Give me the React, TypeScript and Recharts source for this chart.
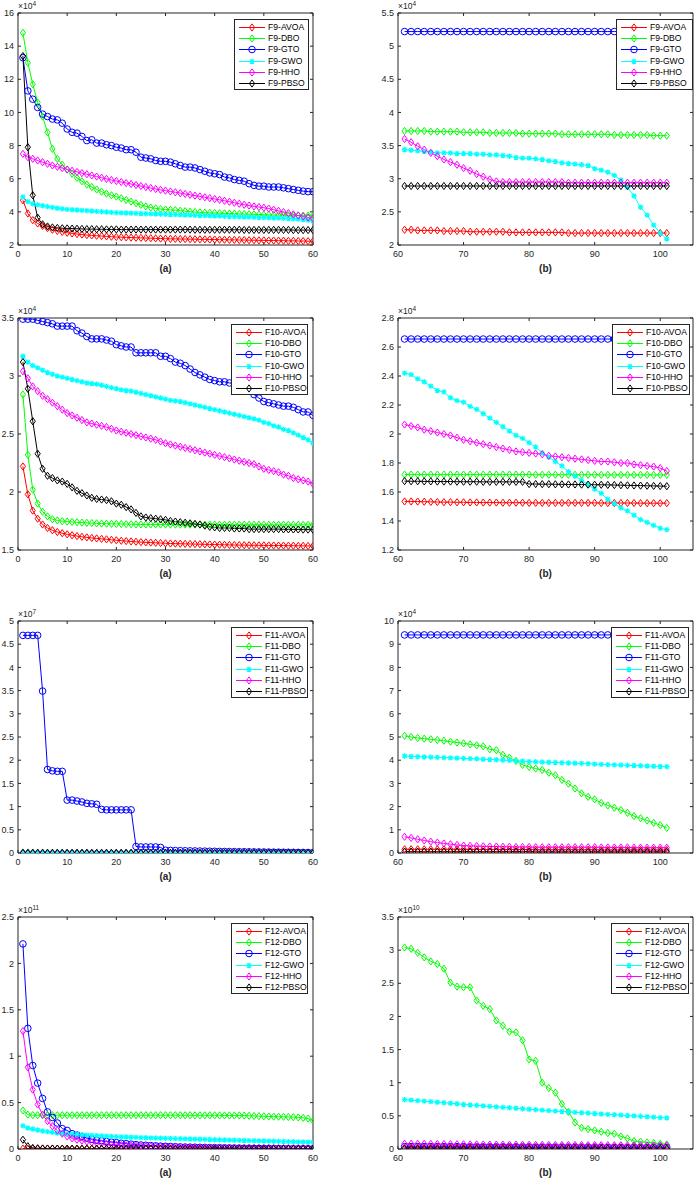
import React from 'react'
import { LineChart, Line, XAxis, YAxis, Legend } from 'recharts'

const FONT = '"Liberation Sans", Arial, Helvetica, sans-serif'
const AXIS = '#262626'

const ALGOS = ['AVOA', 'DBO', 'GTO', 'GWO', 'HHO', 'PBSO']
const COLORS = ['#ff0000', '#00ff00', '#0000ff', '#00ffff', '#ff00ff', '#000000']
const MARKERS = ['diamond', 'diamond', 'circle', 'star', 'diamond', 'diamond']

// iteration index (x categories)
const ITER_A = Array.from({ length: 60 }, (_, i) => i + 1)
const ITER_B = Array.from({ length: 41 }, (_, i) => i + 61)

const X_TICKS_A = [0, 10, 20, 30, 40, 50, 60]
const X_TICKS_B = [60, 70, 80, 90, 100]

// ---- F9 (x10^4) ----
const F9A_AVOA = [4.70,3.90,3.50,3.30,3.15,3.02,2.92,2.85,2.79,2.74,
  2.70,2.66,2.63,2.60,2.58,2.56,2.54,2.52,2.50,2.48,
  2.47,2.46,2.45,2.44,2.43,2.42,2.41,2.40,2.39,2.38,
  2.37,2.37,2.36,2.36,2.35,2.35,2.34,2.34,2.33,2.33,
  2.32,2.32,2.31,2.31,2.30,2.30,2.29,2.29,2.28,2.28,
  2.27,2.27,2.26,2.26,2.25,2.25,2.24,2.24,2.23,2.23]
const F9A_DBO = [14.8,13.0,11.7,10.6,9.75,8.80,7.80,7.20,6.85,6.55,
  6.30,6.05,5.85,5.65,5.50,5.35,5.22,5.10,5.00,4.92,
  4.82,4.72,4.62,4.52,4.42,4.33,4.26,4.21,4.17,4.14,
  4.12,4.10,4.07,4.04,4.01,3.99,3.97,3.95,3.94,3.93,
  3.92,3.91,3.90,3.89,3.88,3.87,3.86,3.85,3.84,3.83,
  3.82,3.81,3.80,3.80,3.79,3.78,3.78,3.77,3.77,3.78]
const F9A_GTO = [13.3,11.3,10.8,10.3,9.90,9.75,9.60,9.55,9.35,9.00,
  8.80,8.75,8.55,8.30,8.35,8.15,8.15,8.05,8.00,7.90,
  7.85,7.75,7.75,7.60,7.30,7.25,7.20,7.10,7.05,7.05,
  7.00,6.90,6.80,6.70,6.70,6.65,6.55,6.45,6.35,6.30,
  6.25,6.10,6.05,5.95,5.90,5.85,5.70,5.60,5.55,5.55,
  5.50,5.50,5.50,5.45,5.40,5.35,5.30,5.25,5.22,5.22]
const F9A_GWO = [4.90,4.62,4.48,4.42,4.37,4.32,4.27,4.22,4.18,4.15,
  4.13,4.11,4.09,4.07,4.05,4.03,4.01,3.99,3.97,3.95,
  3.94,3.93,3.92,3.91,3.90,3.89,3.88,3.87,3.86,3.85,
  3.84,3.83,3.82,3.81,3.80,3.79,3.78,3.77,3.76,3.75,
  3.74,3.73,3.72,3.71,3.70,3.69,3.68,3.67,3.66,3.65,
  3.64,3.63,3.62,3.61,3.60,3.58,3.56,3.54,3.50,3.45]
const F9A_HHO = [7.50,7.30,7.20,7.10,7.00,6.90,6.80,6.72,6.64,6.56,
  6.48,6.41,6.34,6.27,6.20,6.13,6.06,5.99,5.92,5.86,
  5.80,5.74,5.68,5.62,5.56,5.50,5.44,5.38,5.33,5.28,
  5.23,5.18,5.13,5.08,5.03,4.98,4.93,4.88,4.83,4.78,
  4.73,4.67,4.61,4.55,4.49,4.43,4.38,4.33,4.29,4.25,
  4.20,4.13,4.06,3.99,3.92,3.85,3.78,3.72,3.66,3.60]
const F9A_PBSO = [13.4,7.90,5.00,3.65,3.25,3.12,3.06,3.03,3.01,3.00,
  2.99,2.98,2.97,2.96,2.96,2.95,2.95,2.94,2.94,2.94,
  2.93,2.93,2.93,2.93,2.93,2.93,2.93,2.93,2.93,2.93,
  2.93,2.93,2.93,2.93,2.93,2.92,2.92,2.92,2.92,2.92,
  2.92,2.92,2.92,2.92,2.92,2.91,2.91,2.91,2.91,2.91,
  2.91,2.91,2.91,2.91,2.91,2.90,2.90,2.90,2.90,2.90]

const F9B_AVOA = [2.23,2.23,2.22,2.22,2.22,2.22,2.21,2.21,2.21,2.21,
  2.20,2.20,2.20,2.20,2.20,2.20,2.19,2.19,2.19,2.19,
  2.19,2.19,2.19,2.19,2.19,2.18,2.18,2.18,2.18,2.18,
  2.18,2.18,2.18,2.18,2.18,2.18,2.18,2.18,2.18,2.18,2.18]
const F9B_DBO = [3.72,3.72,3.72,3.72,3.71,3.71,3.71,3.71,3.71,3.70,
  3.70,3.70,3.70,3.69,3.69,3.69,3.69,3.69,3.68,3.68,
  3.68,3.68,3.68,3.68,3.67,3.67,3.67,3.67,3.67,3.67,
  3.67,3.67,3.66,3.66,3.66,3.66,3.66,3.66,3.65,3.65,3.65]
const F9B_GTO = [5.22,5.22,5.22,5.22,5.22,5.22,5.22,5.22,5.22,5.22,
  5.22,5.22,5.22,5.22,5.22,5.22,5.22,5.22,5.22,5.22,
  5.22,5.22,5.22,5.22,5.22,5.22,5.22,5.22,5.22,5.22,
  5.22,5.22,5.22,5.22,5.22,5.22,5.22,5.22,5.22,5.22,5.22]
const F9B_GWO = [3.44,3.43,3.42,3.41,3.40,3.39,3.39,3.39,3.38,3.38,
  3.38,3.37,3.37,3.36,3.36,3.35,3.34,3.32,3.31,3.31,
  3.30,3.29,3.27,3.26,3.24,3.23,3.22,3.21,3.20,3.15,
  3.13,3.10,3.05,2.98,2.87,2.74,2.57,2.45,2.30,2.18,2.09]
const F9B_HHO = [3.60,3.55,3.49,3.44,3.39,3.34,3.29,3.25,3.21,3.16,
  3.12,3.07,3.03,2.99,2.96,2.95,2.95,2.95,2.95,2.95,
  2.95,2.95,2.95,2.95,2.95,2.94,2.94,2.94,2.94,2.94,
  2.94,2.94,2.94,2.94,2.94,2.94,2.94,2.94,2.94,2.94,2.94]
const F9B_PBSO = [2.89,2.89,2.89,2.89,2.89,2.89,2.89,2.89,2.89,2.89,
  2.89,2.89,2.89,2.89,2.89,2.89,2.89,2.89,2.89,2.89,
  2.89,2.89,2.89,2.89,2.89,2.89,2.89,2.89,2.89,2.89,
  2.89,2.89,2.89,2.89,2.89,2.89,2.89,2.89,2.89,2.89,2.89]

// ---- F10 (x10^4) ----
const F10A_AVOA = [2.22,1.98,1.84,1.77,1.72,1.69,1.67,1.655,1.645,1.635,
  1.627,1.620,1.614,1.609,1.604,1.600,1.596,1.592,1.588,1.584,
  1.580,1.577,1.574,1.571,1.568,1.566,1.564,1.562,1.560,1.558,
  1.556,1.555,1.554,1.553,1.552,1.551,1.550,1.549,1.548,1.547,
  1.546,1.545,1.544,1.543,1.542,1.542,1.541,1.541,1.540,1.540,
  1.539,1.539,1.538,1.538,1.537,1.537,1.536,1.536,1.535,1.535]
const F10A_DBO = [2.84,2.32,2.02,1.90,1.83,1.79,1.765,1.755,1.748,1.745,
  1.742,1.739,1.736,1.734,1.732,1.730,1.728,1.727,1.726,1.725,
  1.724,1.723,1.722,1.721,1.720,1.720,1.720,1.720,1.720,1.720,
  1.719,1.719,1.719,1.719,1.719,1.719,1.719,1.719,1.719,1.719,
  1.718,1.718,1.718,1.718,1.718,1.718,1.718,1.718,1.718,1.718,
  1.717,1.717,1.717,1.717,1.717,1.717,1.717,1.717,1.717,1.717]
const F10A_GTO = [3.49,3.49,3.49,3.48,3.47,3.46,3.45,3.43,3.43,3.43,
  3.43,3.39,3.37,3.34,3.32,3.32,3.32,3.31,3.30,3.27,
  3.26,3.25,3.25,3.20,3.20,3.20,3.20,3.20,3.17,3.17,
  3.15,3.12,3.11,3.09,3.06,3.03,3.01,2.99,2.97,2.96,
  2.95,2.95,2.94,2.94,2.92,2.90,2.87,2.84,2.81,2.78,
  2.77,2.76,2.75,2.74,2.74,2.73,2.71,2.69,2.69,2.66]
const F10A_GWO = [3.17,3.12,3.09,3.07,3.05,3.03,3.015,3.00,2.99,2.98,
  2.97,2.96,2.95,2.94,2.935,2.93,2.92,2.91,2.90,2.89,
  2.88,2.875,2.87,2.86,2.85,2.84,2.83,2.82,2.81,2.80,
  2.79,2.785,2.78,2.77,2.76,2.75,2.74,2.73,2.72,2.71,
  2.70,2.69,2.68,2.67,2.66,2.65,2.64,2.63,2.62,2.60,
  2.59,2.57,2.56,2.54,2.53,2.51,2.49,2.47,2.45,2.42]
const F10A_HHO = [3.04,2.98,2.91,2.87,2.83,2.80,2.77,2.74,2.71,2.68,
  2.66,2.64,2.62,2.60,2.59,2.58,2.57,2.56,2.545,2.53,
  2.52,2.51,2.50,2.49,2.48,2.47,2.46,2.45,2.435,2.42,
  2.41,2.40,2.39,2.38,2.37,2.36,2.35,2.34,2.33,2.32,
  2.31,2.30,2.29,2.28,2.27,2.26,2.25,2.24,2.22,2.20,
  2.19,2.18,2.17,2.15,2.14,2.12,2.11,2.10,2.09,2.07]
const F10A_PBSO = [3.12,2.89,2.61,2.33,2.20,2.14,2.12,2.10,2.09,2.07,
  2.04,2.01,1.99,1.97,1.95,1.94,1.935,1.93,1.92,1.90,
  1.89,1.87,1.85,1.82,1.79,1.78,1.775,1.77,1.765,1.76,
  1.75,1.745,1.74,1.735,1.73,1.725,1.72,1.71,1.70,1.695,
  1.69,1.69,1.69,1.685,1.685,1.685,1.68,1.68,1.68,1.68,
  1.68,1.68,1.68,1.678,1.678,1.677,1.677,1.676,1.676,1.675]

const F10B_AVOA = [1.535,1.535,1.534,1.533,1.532,1.531,1.530,1.530,1.529,1.529,
  1.528,1.528,1.527,1.527,1.527,1.526,1.526,1.526,1.526,1.525,
  1.525,1.525,1.525,1.525,1.525,1.525,1.525,1.525,1.525,1.525,
  1.524,1.524,1.524,1.524,1.524,1.524,1.523,1.523,1.523,1.523,1.523]
const F10B_DBO = [1.720,1.720,1.720,1.720,1.720,1.720,1.720,1.720,1.720,1.720,
  1.720,1.720,1.720,1.720,1.720,1.720,1.720,1.720,1.720,1.720,
  1.719,1.719,1.719,1.719,1.719,1.719,1.719,1.719,1.719,1.719,
  1.718,1.718,1.718,1.718,1.718,1.718,1.718,1.718,1.718,1.718,1.718]
const F10B_GTO = [2.655,2.655,2.655,2.655,2.655,2.655,2.655,2.655,2.655,2.655,
  2.655,2.655,2.655,2.655,2.655,2.655,2.655,2.655,2.655,2.655,
  2.655,2.655,2.655,2.655,2.655,2.655,2.655,2.655,2.655,2.655,
  2.655,2.655,2.655,2.655,2.655,2.655,2.655,2.655,2.655,2.655,2.655]
const F10B_GWO = [2.42,2.41,2.38,2.36,2.33,2.30,2.29,2.25,2.23,2.22,
  2.19,2.17,2.14,2.11,2.08,2.05,2.02,1.99,1.97,1.94,
  1.91,1.87,1.84,1.81,1.78,1.74,1.71,1.68,1.65,1.62,
  1.59,1.55,1.52,1.49,1.47,1.44,1.41,1.39,1.37,1.35,1.34]
const F10B_HHO = [2.065,2.055,2.045,2.030,2.020,2.010,2.000,1.990,1.975,1.960,
  1.950,1.940,1.930,1.920,1.910,1.900,1.890,1.880,1.875,1.870,
  1.865,1.860,1.850,1.845,1.840,1.835,1.830,1.825,1.820,1.815,
  1.810,1.810,1.805,1.800,1.800,1.790,1.785,1.780,1.775,1.765,1.745]
const F10B_PBSO = [1.675,1.674,1.674,1.673,1.673,1.672,1.672,1.672,1.671,1.671,
  1.671,1.671,1.670,1.670,1.670,1.670,1.670,1.670,1.670,1.655,
  1.655,1.654,1.654,1.653,1.653,1.652,1.652,1.651,1.651,1.650,
  1.650,1.649,1.648,1.647,1.646,1.645,1.644,1.643,1.642,1.641,1.640]

// ---- F11 (left x10^7, right x10^4) ----
const F11A_AVOA = [0.0020,0.0016,0.0013,0.0011,0.0010,0.0009,0.0008,0.0007,0.0007,0.0006,
  0.0006,0.0006,0.0005,0.0005,0.0005,0.0005,0.0004,0.0004,0.0004,0.0004,
  0.0004,0.0004,0.0003,0.0003,0.0003,0.0003,0.0003,0.0003,0.0003,0.0003,
  0.0003,0.0003,0.0003,0.0002,0.0002,0.0002,0.0002,0.0002,0.0002,0.0002,
  0.0002,0.0002,0.0002,0.0002,0.0002,0.0002,0.0002,0.0002,0.0002,0.0002,
  0.0002,0.0002,0.0002,0.0002,0.0002,0.0002,0.0002,0.0002,0.0002,0.0002]
const F11A_DBO = [0.0120,0.0110,0.0100,0.0095,0.0090,0.0086,0.0083,0.0080,0.0078,0.0076,
  0.0074,0.0072,0.0070,0.0068,0.0067,0.0066,0.0065,0.0064,0.0063,0.0062,
  0.0061,0.0060,0.0059,0.0058,0.0058,0.0057,0.0057,0.0056,0.0056,0.0055,
  0.0055,0.0055,0.0054,0.0054,0.0054,0.0054,0.0053,0.0053,0.0053,0.0053,
  0.0053,0.0052,0.0052,0.0052,0.0052,0.0052,0.0052,0.0052,0.0051,0.0051,
  0.0051,0.0051,0.0051,0.0051,0.0051,0.0051,0.0051,0.0051,0.0051,0.0051]
const F11A_GTO = [4.69,4.69,4.69,4.69,3.49,1.80,1.77,1.76,1.76,1.14,
  1.14,1.12,1.10,1.07,1.06,1.05,0.94,0.93,0.93,0.93,
  0.93,0.93,0.93,0.14,0.13,0.13,0.13,0.13,0.12,0.06,
  0.055,0.052,0.050,0.048,0.046,0.044,0.042,0.040,0.038,0.036,
  0.034,0.032,0.031,0.030,0.028,0.027,0.026,0.024,0.023,0.022,
  0.020,0.019,0.018,0.016,0.015,0.014,0.013,0.012,0.011,0.010]
const F11A_GWO = [0.0080,0.0072,0.0066,0.0062,0.0059,0.0057,0.0055,0.0053,0.0052,0.0051,
  0.0050,0.0049,0.0048,0.0048,0.0047,0.0047,0.0046,0.0046,0.0046,0.0045,
  0.0045,0.0045,0.0045,0.0044,0.0044,0.0044,0.0044,0.0044,0.0044,0.0043,
  0.0043,0.0043,0.0043,0.0043,0.0043,0.0043,0.0043,0.0043,0.0043,0.0043,
  0.0043,0.0043,0.0043,0.0043,0.0043,0.0043,0.0043,0.0043,0.0043,0.0042,
  0.0042,0.0042,0.0042,0.0042,0.0042,0.0042,0.0042,0.0042,0.0042,0.0042]
const F11A_HHO = [0.0040,0.0035,0.0031,0.0028,0.0025,0.0023,0.0021,0.0019,0.0018,0.0017,
  0.0016,0.0015,0.0014,0.0013,0.0013,0.0012,0.0012,0.0011,0.0011,0.0011,
  0.0010,0.0010,0.0010,0.0010,0.0010,0.0010,0.0010,0.0010,0.0010,0.0010,
  0.0009,0.0009,0.0009,0.0009,0.0009,0.0009,0.0009,0.0009,0.0009,0.0009,
  0.0008,0.0008,0.0008,0.0008,0.0008,0.0008,0.0008,0.0008,0.0008,0.0008,
  0.0007,0.0007,0.0007,0.0007,0.0007,0.0007,0.0007,0.0007,0.0007,0.0007]
const F11A_PBSO = [0.0010,0.0006,0.0004,0.0003,0.0002,0.0002,0.0001,0.0001,0.0001,0.0001,
  0.0001,0.0001,0.0001,0.0001,0.0001,0.0001,0.0001,0.0001,0.0001,0.0001,
  0.0001,0.0001,0.0001,0.0001,0.0001,0.0001,0.0001,0.0001,0.0001,0.0001,
  0.0001,0.0001,0.0001,0.0001,0.0001,0.0001,0.0001,0.0001,0.0001,0.0001,
  0.0001,0.0001,0.0001,0.0001,0.0001,0.0001,0.0001,0.0001,0.0001,0.0001,
  0.0001,0.0001,0.0001,0.0001,0.0001,0.0001,0.0001,0.0001,0.0001,0.0001]

const F11B_AVOA = [0.16,0.16,0.16,0.16,0.16,0.16,0.16,0.16,0.16,0.16,
  0.15,0.15,0.15,0.15,0.15,0.15,0.15,0.15,0.15,0.15,
  0.14,0.14,0.14,0.14,0.14,0.14,0.14,0.14,0.14,0.14,
  0.13,0.13,0.13,0.13,0.13,0.13,0.13,0.13,0.13,0.13,0.13]
const F11B_DBO = [5.05,5.00,4.96,4.93,4.90,4.87,4.84,4.80,4.76,4.73,
  4.68,4.64,4.60,4.47,4.43,4.23,4.11,3.97,3.80,3.71,
  3.64,3.58,3.46,3.35,3.15,2.99,2.78,2.57,2.42,2.31,
  2.16,2.05,1.95,1.85,1.73,1.59,1.50,1.40,1.30,1.20,1.08]
const F11B_GTO = [9.40,9.40,9.40,9.40,9.40,9.40,9.40,9.40,9.40,9.40,
  9.40,9.40,9.40,9.40,9.40,9.40,9.40,9.40,9.40,9.40,
  9.40,9.40,9.40,9.40,9.40,9.40,9.40,9.40,9.40,9.40,
  9.40,9.40,9.40,9.40,9.40,9.40,9.40,9.40,9.40,9.40,9.40]
const F11B_GWO = [4.18,4.16,4.15,4.14,4.13,4.12,4.11,4.10,4.09,4.08,
  4.07,4.06,4.04,4.03,4.02,4.00,3.99,3.97,3.96,3.94,
  3.93,3.92,3.91,3.90,3.89,3.88,3.87,3.86,3.85,3.83,
  3.82,3.81,3.80,3.79,3.78,3.77,3.76,3.75,3.74,3.73,3.72]
const F11B_HHO = [0.70,0.65,0.59,0.54,0.49,0.45,0.41,0.38,0.35,0.32,
  0.31,0.30,0.29,0.28,0.28,0.27,0.27,0.26,0.26,0.26,
  0.25,0.25,0.25,0.25,0.25,0.25,0.25,0.25,0.25,0.25,
  0.24,0.24,0.24,0.24,0.24,0.23,0.23,0.23,0.23,0.23,0.23]
const F11B_PBSO = [0.06,0.06,0.06,0.06,0.06,0.06,0.06,0.06,0.06,0.06,
  0.06,0.06,0.06,0.06,0.06,0.06,0.06,0.06,0.06,0.06,
  0.05,0.05,0.05,0.05,0.05,0.05,0.05,0.05,0.05,0.05,
  0.05,0.05,0.05,0.05,0.05,0.05,0.05,0.05,0.05,0.05,0.05]

// ---- F12 (left x10^11, right x10^10) ----
const F12A_AVOA = [0.004,0.004,0.004,0.004,0.004,0.004,0.004,0.004,0.004,0.004,
  0.003,0.003,0.003,0.003,0.003,0.003,0.003,0.003,0.003,0.003,
  0.003,0.003,0.003,0.003,0.003,0.003,0.003,0.003,0.003,0.003,
  0.002,0.002,0.002,0.002,0.002,0.002,0.002,0.002,0.002,0.002,
  0.002,0.002,0.002,0.002,0.002,0.002,0.002,0.002,0.002,0.002,
  0.002,0.002,0.002,0.002,0.002,0.002,0.002,0.002,0.002,0.002]
const F12A_DBO = [0.415,0.370,0.365,0.364,0.364,0.364,0.364,0.364,0.364,0.364,
  0.364,0.364,0.364,0.364,0.364,0.364,0.364,0.364,0.364,0.364,
  0.364,0.364,0.364,0.364,0.364,0.364,0.364,0.364,0.364,0.364,
  0.364,0.364,0.364,0.364,0.364,0.363,0.363,0.363,0.363,0.363,
  0.362,0.362,0.362,0.362,0.362,0.360,0.358,0.356,0.354,0.352,
  0.350,0.349,0.348,0.347,0.345,0.343,0.340,0.336,0.328,0.305]
const F12A_GTO = [2.21,1.30,0.90,0.71,0.545,0.40,0.34,0.28,0.22,0.20,
  0.165,0.150,0.135,0.120,0.105,0.095,0.088,0.080,0.074,0.068,
  0.062,0.057,0.052,0.047,0.043,0.040,0.037,0.034,0.031,0.029,
  0.027,0.025,0.023,0.021,0.020,0.019,0.018,0.017,0.016,0.015,
  0.014,0.013,0.012,0.011,0.010,0.009,0.009,0.008,0.008,0.007,
  0.007,0.006,0.006,0.005,0.005,0.004,0.004,0.004,0.003,0.003]
const F12A_GWO = [0.250,0.226,0.215,0.205,0.194,0.187,0.180,0.172,0.167,0.162,
  0.159,0.156,0.153,0.150,0.147,0.144,0.141,0.138,0.136,0.133,
  0.131,0.129,0.127,0.125,0.123,0.121,0.120,0.118,0.117,0.115,
  0.114,0.112,0.111,0.109,0.108,0.106,0.105,0.103,0.102,0.100,
  0.099,0.097,0.096,0.094,0.093,0.092,0.090,0.089,0.088,0.086,
  0.085,0.084,0.082,0.081,0.080,0.078,0.077,0.076,0.074,0.072]
const F12A_HHO = [1.27,0.88,0.64,0.48,0.37,0.30,0.245,0.20,0.165,0.135,
  0.115,0.100,0.090,0.080,0.072,0.065,0.060,0.055,0.050,0.046,
  0.042,0.039,0.036,0.033,0.031,0.029,0.027,0.025,0.023,0.022,
  0.021,0.020,0.019,0.018,0.017,0.016,0.015,0.015,0.014,0.013,
  0.013,0.012,0.012,0.011,0.011,0.010,0.010,0.010,0.009,0.009,
  0.009,0.009,0.008,0.008,0.008,0.008,0.008,0.007,0.007,0.007]
const F12A_PBSO = [0.100,0.030,0.012,0.008,0.006,0.005,0.005,0.004,0.004,0.004,
  0.003,0.003,0.003,0.003,0.003,0.003,0.003,0.003,0.003,0.003,
  0.003,0.003,0.003,0.003,0.003,0.003,0.003,0.003,0.003,0.003,
  0.002,0.002,0.002,0.002,0.002,0.002,0.002,0.002,0.002,0.002,
  0.002,0.002,0.002,0.002,0.002,0.001,0.001,0.001,0.001,0.001,
  0.001,0.001,0.001,0.001,0.001,0.001,0.001,0.001,0.001,0.001]

const F12B_AVOA = [0.022,0.022,0.022,0.022,0.022,0.022,0.022,0.022,0.022,0.022,
  0.021,0.021,0.021,0.021,0.021,0.021,0.021,0.021,0.021,0.021,
  0.020,0.020,0.020,0.020,0.020,0.020,0.020,0.020,0.020,0.020,
  0.019,0.019,0.019,0.019,0.019,0.019,0.019,0.019,0.019,0.019,0.019]
const F12B_DBO = [3.04,3.02,2.96,2.89,2.83,2.79,2.72,2.51,2.45,2.44,
  2.44,2.24,2.16,2.11,1.94,1.86,1.77,1.76,1.64,1.35,
  1.33,1.00,0.92,0.85,0.68,0.56,0.40,0.32,0.30,0.28,
  0.26,0.24,0.23,0.19,0.16,0.12,0.11,0.10,0.09,0.08,0.07]
const F12B_GTO = [0.035,0.035,0.035,0.035,0.035,0.035,0.035,0.035,0.035,0.035,
  0.032,0.032,0.032,0.032,0.032,0.032,0.032,0.032,0.032,0.032,
  0.029,0.029,0.029,0.029,0.029,0.029,0.029,0.029,0.029,0.029,
  0.026,0.026,0.026,0.026,0.026,0.026,0.026,0.026,0.026,0.026,0.026]
const F12B_GWO = [0.744,0.737,0.730,0.722,0.714,0.706,0.698,0.690,0.682,0.672,
  0.664,0.657,0.650,0.643,0.636,0.629,0.622,0.615,0.607,0.600,
  0.593,0.586,0.579,0.572,0.566,0.560,0.553,0.547,0.541,0.535,
  0.528,0.523,0.517,0.511,0.505,0.499,0.493,0.487,0.481,0.474,0.468]
const F12B_HHO = [0.080,0.079,0.078,0.077,0.076,0.075,0.074,0.073,0.072,0.071,
  0.070,0.069,0.068,0.067,0.066,0.066,0.065,0.065,0.064,0.064,
  0.063,0.063,0.062,0.062,0.061,0.061,0.060,0.060,0.059,0.059,
  0.058,0.058,0.057,0.057,0.056,0.056,0.056,0.055,0.055,0.055,0.055]
const F12B_PBSO = [0.003,0.003,0.003,0.003,0.003,0.003,0.003,0.003,0.003,0.003,
  0.003,0.003,0.003,0.003,0.003,0.003,0.003,0.003,0.003,0.003,
  0.003,0.003,0.003,0.003,0.003,0.003,0.003,0.003,0.003,0.003,
  0.003,0.003,0.003,0.003,0.003,0.003,0.003,0.003,0.003,0.003,0.003]

// y ticks per panel
const Y_F9A = [2, 4, 6, 8, 10, 12, 14, 16]
const Y_F9B = [2, 2.5, 3, 3.5, 4, 4.5, 5, 5.5]
const Y_F10A = [1.5, 2, 2.5, 3, 3.5]
const Y_F10B = [1.2, 1.4, 1.6, 1.8, 2, 2.2, 2.4, 2.6, 2.8]
const Y_F11A = [0, 0.5, 1, 1.5, 2, 2.5, 3, 3.5, 4, 4.5, 5]
const Y_F11B = [0, 1, 2, 3, 4, 5, 6, 7, 8, 9, 10]
const Y_F12A = [0, 0.5, 1, 1.5, 2, 2.5]
const Y_F12B = [0, 0.5, 1, 1.5, 2, 2.5, 3, 3.5]

function Marker({ cx, cy, color, kind }: any) {
  if (cx == null || cy == null) return null
  if (kind === 'circle') {
    return <circle cx={cx} cy={cy} r={3.3} fill="none" stroke={color} strokeWidth={1} />
  }
  if (kind === 'star') {
    const d = `M${cx - 2.7},${cy}h5.4M${cx},${cy - 2.7}v5.4M${cx - 2},${cy - 2}l4,4M${cx - 2},${cy + 2}l4,-4`
    return <path d={d} fill="none" stroke={color} strokeWidth={1.2} />
  }
  const d = `M${cx},${cy - 3.6}L${cx + 2.6},${cy}L${cx},${cy + 3.6}L${cx - 2.6},${cy}Z`
  return <path d={d} fill="none" stroke={color} strokeWidth={1} />
}

function LegendBox({ fn }: { fn: string }) {
  return (
    <div style={{ width: '100%', height: '100%', boxSizing: 'border-box', border: '1px solid #262626', background: '#fff', paddingTop: 2 }}>
      {ALGOS.map((a, k) => (
        <div key={a} style={{ display: 'flex', alignItems: 'center', height: 11.2 }}>
          <svg width={32} height={11} style={{ flex: 'none' }}>
            <line x1={4} x2={30} y1={5.5} y2={5.5} stroke={COLORS[k]} strokeWidth={1} />
            <Marker cx={17} cy={5.5} color={COLORS[k]} kind={MARKERS[k]} />
          </svg>
          <span style={{ fontSize: 8.6, color: '#000', marginLeft: 1, whiteSpace: 'nowrap', lineHeight: '11px' }}>{fn}-{a}</span>
        </div>
      ))}
    </div>
  )
}

function Panel(p: any) {
  const rows = p.iters.map((it: number, i: number) => {
    const row: any = { it }
    p.series.forEach((s: number[], k: number) => { row['s' + k] = s[i] })
    return row
  })
  const tickStyle = { fontSize: 9, fill: AXIS }
  return (
    <div style={{ position: 'absolute', left: p.left, top: p.top }}>
      <LineChart width={p.width} height={270} data={rows} margin={{ top: 7, right: p.marginRight, bottom: 2, left: 0 }}>
        <XAxis xAxisId="bottom" dataKey="it" type="number" domain={p.xDomain} ticks={p.xTicks} allowDataOverflow
          interval={0} stroke={AXIS} tickSize={-3} tickMargin={9} height={28} tick={tickStyle}
          label={{ value: p.caption, position: 'insideBottom', offset: 1, fill: AXIS, fontSize: 10, fontWeight: 'bold' }} />
        <XAxis xAxisId="top" orientation="top" dataKey="it" type="number" domain={p.xDomain} ticks={p.xTicks} allowDataOverflow
          interval={0} stroke={AXIS} tickSize={-3} height={1} tickFormatter={() => ''} />
        <YAxis yAxisId="left" type="number" domain={p.yDomain} ticks={p.yTicks} allowDataOverflow interval={0}
          width={p.yAxisW} stroke={AXIS} tickSize={-3} tickMargin={7} tick={tickStyle} />
        <YAxis yAxisId="right" orientation="right" type="number" domain={p.yDomain} ticks={p.yTicks} allowDataOverflow
          interval={0} width={1} stroke={AXIS} tickSize={-3} tickFormatter={() => ''} />
        {/* invisible carrier so the box axes (top/right) get a scale */}
        <Line xAxisId="top" yAxisId="right" dataKey="s0" stroke="none" dot={false} activeDot={false}
          isAnimationActive={false} legendType="none" />
        {p.series.map((_: number[], k: number) => (
          <Line key={ALGOS[k]} xAxisId="bottom" yAxisId="left" type="linear" dataKey={'s' + k}
            stroke={COLORS[k]} strokeWidth={1} isAnimationActive={false} activeDot={false}
            dot={(d: any) => <Marker key={`m${k}-${d.index}`} cx={d.cx} cy={d.cy} color={COLORS[k]} kind={MARKERS[k]} />} />
        ))}
        <Legend layout="vertical" align="center" verticalAlign="middle"
          wrapperStyle={{ left: p.legendLeft, top: 14, width: p.legendWidth, height: 71 }}
          content={() => <LegendBox fn={p.fn} />} />
      </LineChart>
      <div style={{ position: 'absolute', left: p.yAxisW, top: -4, fontSize: 8.5, color: AXIS, lineHeight: '10px', whiteSpace: 'nowrap' }}>
        ×10<span style={{ fontSize: 6.5, position: 'relative', top: -3.5 }}>{p.exp}</span>
      </div>
    </div>
  )
}

const LEFT = { left: 0, width: 320, yAxisW: 18, marginRight: 6, iters: ITER_A, xDomain: [0, 60], xTicks: X_TICKS_A, caption: '(a)' }
const RIGHT = { left: 370, width: 326, yAxisW: 28, marginRight: 2, iters: ITER_B, xDomain: [60, 105], xTicks: X_TICKS_B, caption: '(b)' }

export default function App() {
  return (
    <div style={{ position: 'absolute', left: 0, top: 0, width: 696, height: 1181, background: '#fff', fontFamily: FONT, overflow: 'hidden' }}>
      <Panel {...LEFT} top={5} fn="F9" exp="4" yDomain={[2, 16]} yTicks={Y_F9A} legendLeft={234} legendWidth={75}
        series={[F9A_AVOA, F9A_DBO, F9A_GTO, F9A_GWO, F9A_HHO, F9A_PBSO]} />
      <Panel {...RIGHT} top={5} fn="F9" exp="4" yDomain={[2, 5.5]} yTicks={Y_F9B} legendLeft={246} legendWidth={77}
        series={[F9B_AVOA, F9B_DBO, F9B_GTO, F9B_GWO, F9B_HHO, F9B_PBSO]} />
      <Panel {...LEFT} top={310} fn="F10" exp="4" yDomain={[1.5, 3.5]} yTicks={Y_F10A} legendLeft={231} legendWidth={77}
        series={[F10A_AVOA, F10A_DBO, F10A_GTO, F10A_GWO, F10A_HHO, F10A_PBSO]} />
      <Panel {...RIGHT} top={310} fn="F10" exp="4" yDomain={[1.2, 2.8]} yTicks={Y_F10B} legendLeft={242} legendWidth={78}
        series={[F10B_AVOA, F10B_DBO, F10B_GTO, F10B_GWO, F10B_HHO, F10B_PBSO]} />
      <Panel {...LEFT} top={613} fn="F11" exp="7" yDomain={[0, 5]} yTicks={Y_F11A} legendLeft={231} legendWidth={77}
        series={[F11A_AVOA, F11A_DBO, F11A_GTO, F11A_GWO, F11A_HHO, F11A_PBSO]} />
      <Panel {...RIGHT} top={613} fn="F11" exp="4" yDomain={[0, 10]} yTicks={Y_F11B} legendLeft={241} legendWidth={78}
        series={[F11B_AVOA, F11B_DBO, F11B_GTO, F11B_GWO, F11B_HHO, F11B_PBSO]} />
      <Panel {...LEFT} top={909} fn="F12" exp="11" yDomain={[0, 2.5]} yTicks={Y_F12A} legendLeft={231} legendWidth={77}
        series={[F12A_AVOA, F12A_DBO, F12A_GTO, F12A_GWO, F12A_HHO, F12A_PBSO]} />
      <Panel {...RIGHT} top={909} fn="F12" exp="10" yDomain={[0, 3.5]} yTicks={Y_F12B} legendLeft={241} legendWidth={78}
        series={[F12B_AVOA, F12B_DBO, F12B_GTO, F12B_GWO, F12B_HHO, F12B_PBSO]} />
    </div>
  )
}
